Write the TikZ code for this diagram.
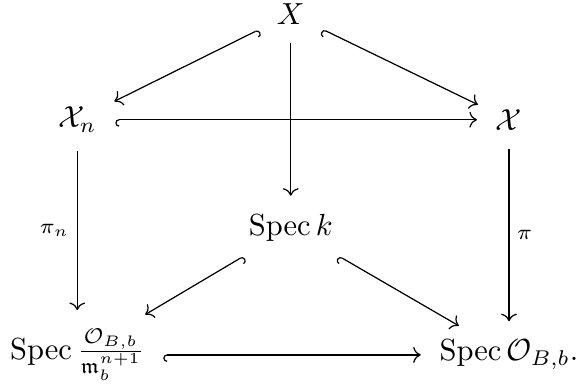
\documentclass[tikz,border=0pt]{standalone}
\usepackage{amsmath,amssymb,amsfonts}
\usepackage{tikz}
\usetikzlibrary{arrows.meta}

\tikzset{
	obj/.style={inner sep=3pt},
	mor/.style={->,shorten <=3pt,shorten >=3pt},
	hookl/.style={mor,{Hooks[left]}->},
	hookr/.style={mor,{Hooks[right]}->},
	lab/.style={midway,inner sep=2.5pt},
}

\begin{document}
\begin{tikzpicture}
				\useasboundingbox (0,0) rectangle (6.637,-4.436);
				\node[obj] (x) at (3.35,-0.16) {$X$};
				\node[obj] (xn) at (0.89,-1.38) {$\mathcal{X}_n$};
				\node[obj] (cx) at (5.865,-1.38) {$\mathcal{X}$};
				\node[obj] (sk) at (3.35,-2.63) {$\operatorname{Spec} k$};
				\node[obj] (sm) at (0.89,-4.09) {$\operatorname{Spec} \frac{\mathcal{O}_{B,b}}{\mathfrak{m}_b^{n+1}}$};
				\node[obj] (so) at (5.865,-4.09) {$\operatorname{Spec} \mathcal{O}_{B,b}.$};
				% top row
				\draw[hookr] (x) -- (xn);
				\draw[hookl] (x) -- (cx);
				\draw[mor] (x) -- (sk);
				\draw[hookl] (xn) -- (cx);
				% down to the bottom row
				\draw[mor] (xn) -- (sm) node[lab,left]{$\scriptstyle\pi_n$};
				\draw[mor] (cx) -- (so) node[lab,right]{$\scriptstyle\pi$};
				\draw[hookr] (sk) -- (sm);
				\draw[hookl] (sk) -- (so);
				\draw[hookl] (sm) -- (so);
		\end{tikzpicture}
\end{document}
